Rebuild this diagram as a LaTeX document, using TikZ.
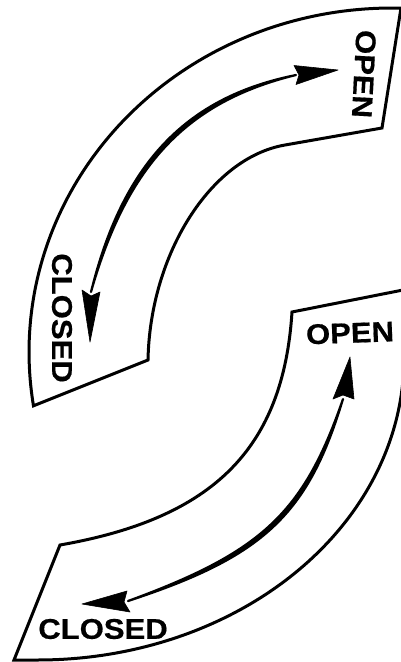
\documentclass[tikz,border=0pt]{standalone}
\usepackage{fontspec}
\setmainfont{Liberation Sans}
\newfontfamily\lblfont[FakeStretch=1.09, FakeBold=0.5]{Liberation Sans Bold}
\begin{document}
\tikzset{
  band/.style={line width=3pt, line join=miter},
  arrowbody/.style={fill=black, draw=black, line width=2.2pt, line join=round, line cap=round},
  headfill/.style={fill=black, draw=black, line width=0.6pt, line join=round},
  lbl/.style={font=\lblfont\fontsize{28.5}{30}\selectfont, inner sep=0pt},
}
\begin{tikzpicture}[x=1pt,y=-1pt]
\useasboundingbox (0,0) rectangle (401,662);
\fill[white] (0,0) rectangle (401,662);

% upper band
\draw[band] plot[domain=171:270, samples=90] ({392+363*cos(\x)},{352+344*sin(\x)})
  -- (401,8) -- (382,128) -- (285,145)
  .. controls (210,158) and (150,255) .. (148,360) -- cycle;

% lower band
\draw[band] plot[domain=0:90, samples=90] ({38+366*cos(\x)},{358+302*sin(\x)})
  -- (14,660) -- (60,545)
  .. controls (213.7,518.2) and (283.3,448.3) .. (292,312) -- (403,290);

% upper arrow
\coordinate (uB1) at (91,292);
\coordinate (uB2) at (296,75);
\coordinate (uT1) at (90,342);
\coordinate (uT2) at (338,70);
\filldraw[arrowbody] (uB1) .. controls (127.2,165.0) and (186.8,101.8) .. (uB2)
  .. controls (185.8,97.0) and (122.4,163.8) .. (uB1) -- cycle;
\filldraw[headfill] (uT1) -- (82,290) -- (91,296) -- (100,292) -- cycle;
\filldraw[headfill] (uT2) -- (294,65.5) -- (299,75) -- (296,84.5) -- cycle;

% lower arrow
\coordinate (lB1) at (343,399);
\coordinate (lB2) at (128,601);
\coordinate (lT1) at (350,357);
\coordinate (lT2) at (82,604);
\filldraw[arrowbody] (lB1) .. controls (308.3,514.7) and (263.7,556.7) .. (lB2)
  .. controls (262.1,551.9) and (303.5,513.1) .. (lB1) -- cycle;
\filldraw[headfill] (lT1) -- (333,399) -- (343,395) -- (354,399) -- cycle;
\filldraw[headfill] (lT2) -- (127,591) -- (124,602) -- (130,612) -- cycle;

% labels
\node[lbl, rotate=-93] (openA) at (364,74) {OPEN};
\node[lbl, rotate=-90] (closedA) at (62,318) {CLOSED};
\node[lbl, rotate=2] (openB) at (350,333) {OPEN};
\node[lbl] (closedB) at (103,629) {CLOSED};
\end{tikzpicture}
\end{document}
